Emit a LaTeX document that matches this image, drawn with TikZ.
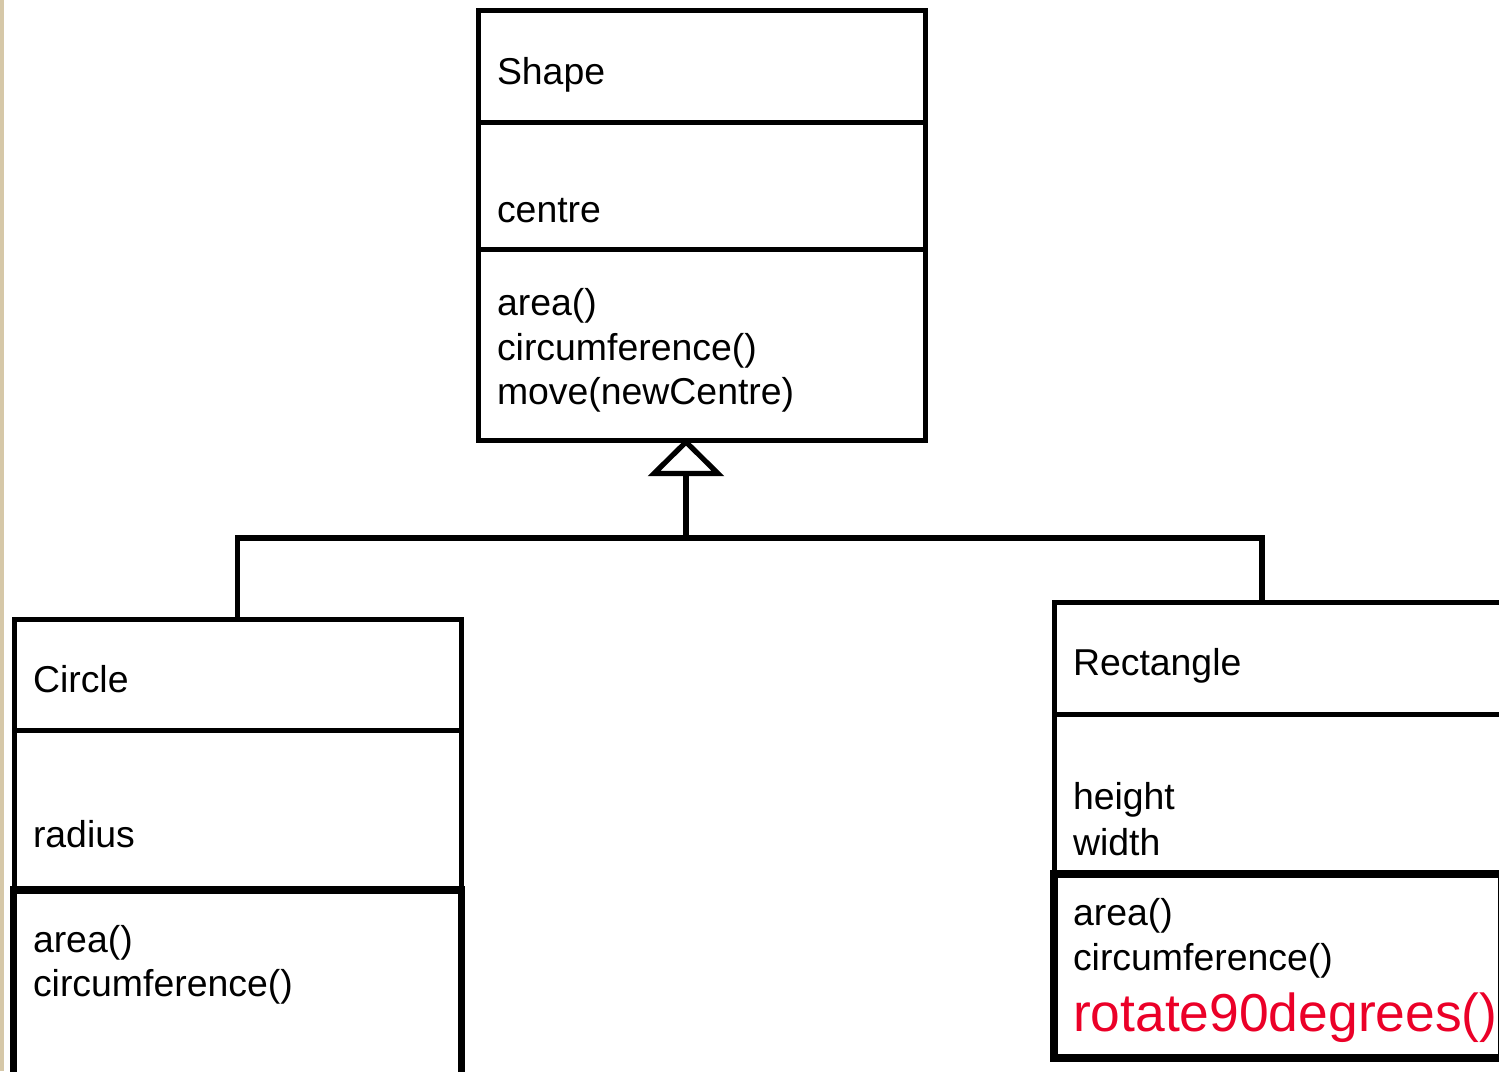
\documentclass[tikz,border=0pt]{standalone}
\usepackage{fontspec}
\setmainfont{Liberation Sans}
\begin{document}
\begin{tikzpicture}[x=0.5pt,y=-0.5pt,
  comp/.style={draw=black, line width=2.5pt, fill=white, inner sep=0pt, outer sep=0pt, anchor=north west},
  thickcomp/.style={comp, line width=3.7pt},
  lbl/.style={anchor=base west, inner sep=0pt, outer sep=0pt, font=\fontsize{18.7}{22.4}\selectfont, align=left},
  redlbl/.style={anchor=base west, inner sep=0pt, outer sep=0pt, font=\fontsize{26.7}{31}\selectfont, text={rgb,255:red,235;green,0;blue,40}},
  conn/.style={draw=black, line width=2.6pt}]
\useasboundingbox (0,0) rectangle (1499,1071);
\clip (0,0) rectangle (1499,1071);
\fill[fill={rgb,255:red,214;green,200;blue,168}] (0,0) rectangle (4,1071);

% Shape class
\node[comp, minimum width=223.25pt, minimum height=55.75pt] (shapeName) at (478.5,10.5) {};
\node[comp, minimum width=223.25pt, minimum height=63.75pt] (shapeAttr) at (478.5,122) {};
\node[comp, minimum width=223.25pt, minimum height=95.25pt] (shapeOps) at (478.5,249.5) {};
\node[lbl] (tShape) at (497,84) {Shape};
\node[lbl] (tCentre) at (497,222) {centre};
\node[lbl] (tSOp1) at (497,315) {area()};
\node[lbl] (tSOp2) at (497,360) {circumference()};
\node[lbl] (tSOp3) at (497,404.5) {move(newCentre)};

% Circle class
\node[comp, minimum width=223.75pt, minimum height=55.5pt] (circName) at (14,619) {};
\node[comp, minimum width=223.75pt, minimum height=79pt] (circAttr) at (14,730) {};
\node[thickcomp, minimum width=224pt, minimum height=125pt] (circOps) at (13.5,890) {};
\node[lbl] (tCircle) at (33,692) {Circle};
\node[lbl] (tRadius) at (33,847) {radius};
\node[lbl] (tCOp1) at (33,952) {area()};
\node[lbl] (tCOp2) at (33,996) {circumference()};

% Rectangle class
\node[comp, minimum width=240pt, minimum height=56.25pt] (rectName) at (1054.5,602) {};
\node[comp, minimum width=240pt, minimum height=79.75pt] (rectAttr) at (1054.5,714.5) {};
\node[thickcomp, line width=4pt, minimum width=224.25pt, minimum height=91.75pt] (rectOps) at (1053.5,874) {};
\node[lbl] (tRect) at (1073,675) {Rectangle};
\node[lbl] (tHeight) at (1073,809.5) {height};
\node[lbl] (tWidth) at (1073,855) {width};
\node[lbl] (tROp1) at (1073,925) {area()};
\node[lbl] (tROp2) at (1073,970) {circumference()};
\node[redlbl] (tROp3) at (1073,1031) {rotate90degrees()};

% generalisation connector
\coordinate (apex) at (686,442);
\coordinate (tl) at (654,473.5);
\coordinate (tr) at (718,473.5);
\coordinate (tb) at (686,473.5);
\coordinate (bar) at (686,538);
\coordinate (rjoin) at (1262,602);
\draw[conn, fill=white, line join=miter] (apex) -- (tl) -- (tr) -- cycle;
\draw[conn] (tb) -- (bar);
\draw[conn] (circName.north) |- (bar) -| (rjoin);
\end{tikzpicture}
\end{document}
